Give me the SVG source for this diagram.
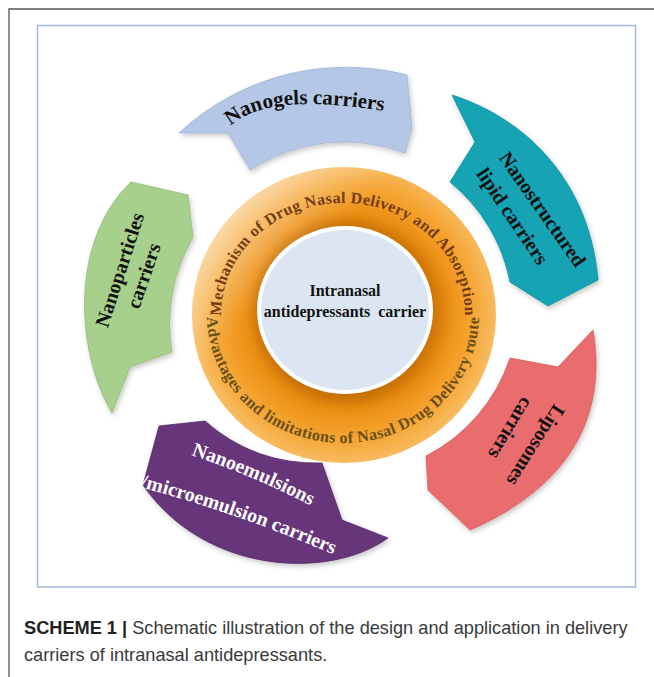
<svg xmlns="http://www.w3.org/2000/svg" width="654" height="677" viewBox="0 0 654 677">
<style>
  .lbl { font-family: "Liberation Serif", "Times New Roman", serif; font-weight: bold; font-size: 20px; fill: #111; }
  .lblw { font-family: "Liberation Serif", "Times New Roman", serif; font-weight: bold; font-size: 20px; fill: #fff; }
  .ringtxt { font-family: "Liberation Serif", "Times New Roman", serif; font-weight: bold; font-size: 16px; }
  .cap { font-family: "Liberation Sans", Arial, sans-serif; font-size: 18.2px; fill: #3a3a3a; }
  .shape { stroke-width: 0.8; filter: url(#sh); }
</style>
<defs>
  <radialGradient id="ringGrad" cx="345" cy="312" r="152" gradientUnits="userSpaceOnUse">
    <stop offset="0.55" stop-color="#d07a0a"/>
    <stop offset="0.64" stop-color="#ec8e12"/>
    <stop offset="0.82" stop-color="#f4a22e"/>
    <stop offset="1" stop-color="#f8bc62"/>
  </radialGradient>
  <linearGradient id="ringHi" x1="195" y1="175" x2="360" y2="340" gradientUnits="userSpaceOnUse">
    <stop offset="0" stop-color="#fff" stop-opacity="0.75"/>
    <stop offset="0.6" stop-color="#fff" stop-opacity="0"/>
  </linearGradient>
  <filter id="sh" x="-15%" y="-15%" width="135%" height="135%">
    <feDropShadow dx="1.5" dy="2.5" stdDeviation="2.5" flood-color="#000" flood-opacity="0.22"/>
  </filter>
  <filter id="blur" x="-20%" y="-20%" width="140%" height="140%">
    <feGaussianBlur stdDeviation="7"/>
  </filter>
  <path id="topArc" d="M228.4,353.3 A122,112 0 1 1 457.6,353.3"/>
  <path id="botArc" d="M215.2,271.2 A136,128 0 1 0 470.8,271.2"/>
  <path id="gelArc" d="M229,127 C255,104 300,96 402,114"/>
  <path id="emu1" d="M191,455 Q260,478 325,513"/>
  <path id="emu2" d="M140,487 Q245,515 348,561"/>
</defs>

<rect width="654" height="677" fill="#fff"/>
<path d="M9,677 V9 H654" fill="none" stroke="#555" stroke-width="1.3"/>
<rect x="37.5" y="25.5" width="598" height="561.5" fill="#fff" stroke="#9fb8de" stroke-width="1.5"/>

<g id="center">
  <ellipse cx="344" cy="315" rx="152" ry="148" fill="url(#ringGrad)"/>
  <ellipse cx="344" cy="315" rx="152" ry="148" fill="url(#ringHi)"/>
  <ellipse cx="350" cy="312" rx="97" ry="93" fill="#b86400" opacity="0.35" filter="url(#blur)"/>
  <ellipse cx="345" cy="310" rx="86" ry="82" fill="#dce6f2" stroke="#fff" stroke-width="4"/>
  <text class="lbl" text-anchor="middle" x="345" y="296" style="font-size:16px">Intranasal</text>
  <text class="lbl" text-anchor="middle" x="345" y="317" style="font-size:16px;white-space:pre">antidepressants  carrier</text>
  <text class="ringtxt" fill="#743c16" letter-spacing="0.4"><textPath href="#topArc" startOffset="50%" text-anchor="middle">Mechanism of Drug Nasal Delivery and Absorption</textPath></text>
  <text class="ringtxt" fill="#6a4f18" letter-spacing="0.4"><textPath href="#botArc" startOffset="50%" text-anchor="middle">Advantages and limitations of Nasal Drug Delivery route</textPath></text>
</g>

<g id="nanogels">
  <path class="shape" d="M179,133 A245,245 0 0 1 407,75 L412,128 L405,153 A172,172 0 0 0 250,170 L228,133 Z" fill="#b4c7e7" stroke="#9fb3d6"/>
  <text class="lbl" style="font-size:21px"><textPath href="#gelArc" startOffset="2">Nanogels carriers</textPath></text>
</g>

<g id="nanostructured">
  <path class="shape" d="M452,95 C530,120 590,185 598,280 L548,306 L510,282 A171,171 0 0 0 450,182 L475,142 Z" fill="#14a3b4" stroke="#0f8f9f"/>
  <text class="lbl" text-anchor="middle" transform="translate(537,213) rotate(55)">Nanostructured</text>
  <text class="lbl" text-anchor="middle" transform="translate(507,220) rotate(56)">lipid carriers</text>
</g>

<g id="liposomes">
  <path class="shape" d="M593,330 C605,400 585,480 470,530 L428,490 L426,456 A170,170 0 0 0 510,358 L558,367 Z" fill="#e96c6e" stroke="#d65c5e"/>
  <text class="lbl" text-anchor="middle" transform="translate(530,442) rotate(122)">Liposomes</text>
  <text class="lbl" text-anchor="middle" transform="translate(505,425) rotate(121)">carriers</text>
</g>

<g id="nanoemulsions">
  <path class="shape" d="M388,538 C330,580 205,575 143,485 L159,426 L205,421 Q255,465 322,463 L342,520 Z" fill="#66357a" stroke="#55296a"/>
  <text class="lblw"><textPath href="#emu1">Nanoemulsions</textPath></text>
  <text class="lblw"><textPath href="#emu2">/microemulsion carriers</textPath></text>
</g>

<g id="nanoparticles">
  <path class="shape" d="M112,413 C75,350 70,240 131,182 L188,195 L193,237 A172,172 0 0 0 172,352 L130,367 Z" fill="#a8d08d" stroke="#93bd78"/>
  <text class="lbl" text-anchor="middle" transform="translate(126,272) rotate(-72)">Nanoparticles</text>
  <text class="lbl" text-anchor="middle" transform="translate(150,278) rotate(-71)">carriers</text>
</g>

<g id="caption">
  <text class="cap" x="24" y="634"><tspan font-weight="bold" fill="#222">SCHEME 1 |</tspan> Schematic illustration of the design and application in delivery</text>
  <text class="cap" x="24" y="661">carriers of intranasal antidepressants.</text>
</g>
</svg>
